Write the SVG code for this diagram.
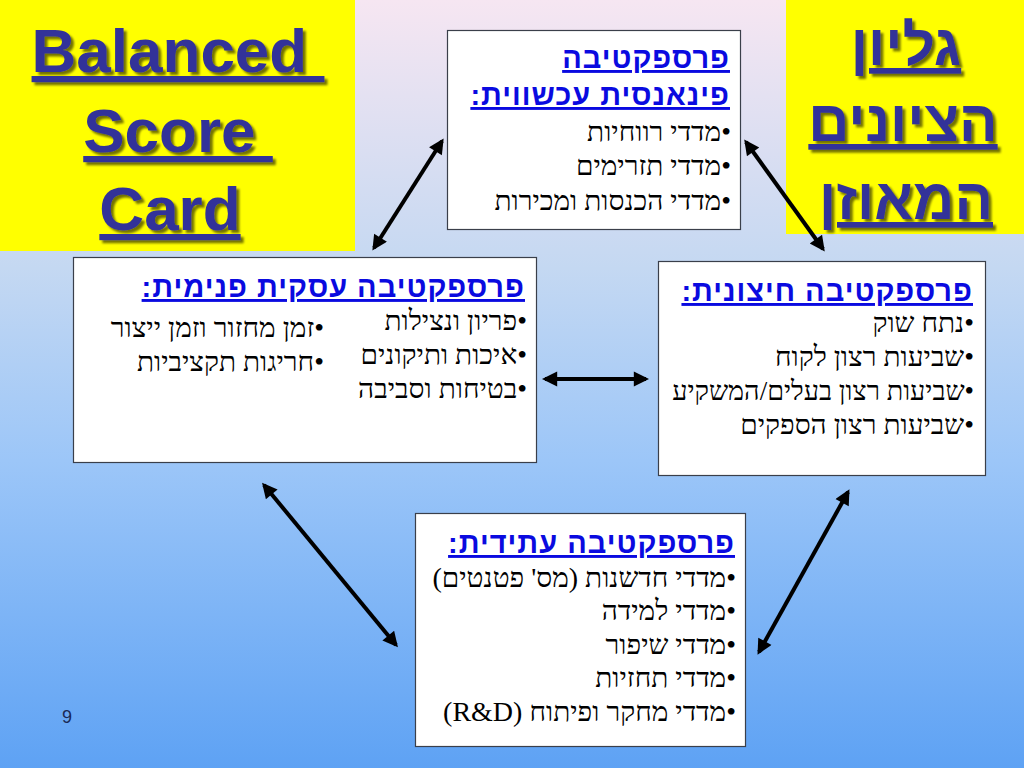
<svg xmlns="http://www.w3.org/2000/svg" width="1024" height="768" viewBox="0 0 1024 768">
<defs>
<linearGradient id="bg" x1="0" y1="0" x2="0" y2="1">
<stop offset="0" stop-color="#f6e6f2"/>
<stop offset="0.35" stop-color="#c4d8f2"/>
<stop offset="0.6" stop-color="#9cc6f8"/>
<stop offset="1" stop-color="#5ea2f4"/>
</linearGradient>
<filter id="sh" x="-10%" y="-10%" width="130%" height="140%">
<feDropShadow dx="3" dy="3" stdDeviation="1" flood-color="#000" flood-opacity="0.55"/>
</filter>
<marker id="ah" viewBox="0 0 10 10" refX="8" refY="5" markerWidth="4.4" markerHeight="3.8" orient="auto-start-reverse" markerUnits="strokeWidth">
<path d="M0,0 L10,5 L0,10 Z" fill="#000"/>
</marker>
<style>
.box{fill:#fff;stroke:#3a3f4a;stroke-width:1.2}
.ttl{font-family:"Liberation Sans",Arial,"DejaVu Sans",sans-serif;font-weight:bold;font-size:29px;letter-spacing:1px;fill:#0a0ae0;text-decoration:underline;direction:rtl;text-anchor:start}
.bd{font-family:"Liberation Serif","Times New Roman","DejaVu Sans",serif;font-size:28px;fill:#000;direction:rtl;text-anchor:start}
.big{font-family:"Liberation Sans",Arial,sans-serif;font-weight:bold;font-size:62px;fill:#333399;text-decoration:underline;text-anchor:middle}
.bigh{font-family:"Liberation Sans",Arial,"DejaVu Sans",sans-serif;font-weight:bold;font-size:57px;fill:#333399;text-decoration:underline;text-anchor:middle;direction:rtl}
.arr{stroke:#000;stroke-width:4;fill:none;marker-start:url(#ah);marker-end:url(#ah)}
</style>
</defs>
<rect x="0" y="0" width="1024" height="768" fill="url(#bg)"/>
<g id="title-en">
<rect x="0" y="0" width="355" height="251" fill="#ffff00"/>
<g filter="url(#sh)">
<text class="big" x="178" y="72" xml:space="preserve">Balanced </text>
<text class="big" x="178" y="152" xml:space="preserve">Score </text>
<text class="big" x="170" y="230">Card</text>
</g>
</g>
<g id="title-he">
<rect x="786" y="0" width="238" height="234" fill="#ffff00"/>
<g filter="url(#sh)">
<text class="bigh" x="906" y="65">גליון</text>
<text class="bigh" x="903" y="141">הציונים</text>
<text class="bigh" x="906" y="219">המאוזן</text>
</g>
</g>
<g id="connectors">
<line class="arr" x1="374" y1="248" x2="442" y2="141"/>
<line class="arr" x1="746" y1="142" x2="823" y2="249"/>
<line class="arr" x1="545" y1="379" x2="646" y2="379"/>
<line class="arr" x1="264" y1="485" x2="396" y2="645"/>
<line class="arr" x1="848" y1="492" x2="759" y2="652"/>
</g>
<g id="financial">
<rect class="box" x="447.5" y="30.5" width="293" height="199"/>
<text class="ttl" x="730" y="68">פרספקטיבה</text>
<text class="ttl" x="730" y="105">פינאנסית עכשווית:</text>
<text class="bd" x="731" y="141">•מדדי רווחיות</text>
<text class="bd" x="731" y="175">•מדדי תזרימים</text>
<text class="bd" x="731" y="210">•מדדי הכנסות ומכירות</text>
</g>
<g id="internal">
<rect class="box" x="73.5" y="257.5" width="463" height="205"/>
<text class="ttl" x="525" y="297">פרספקטיבה עסקית פנימית:</text>
<text class="bd" x="527" y="330">•פריון ונצילות</text>
<text class="bd" x="527" y="364">•איכות ותיקונים</text>
<text class="bd" x="527" y="398">•בטיחות וסביבה</text>
<text class="bd" x="324" y="337">•זמן מחזור וזמן ייצור</text>
<text class="bd" x="324" y="371">•חריגות תקציביות</text>
</g>
<g id="external">
<rect class="box" x="658.5" y="261.5" width="327" height="214"/>
<text class="ttl" x="973" y="301">פרספקטיבה חיצונית:</text>
<text class="bd" x="974" y="332">•נתח שוק</text>
<text class="bd" x="974" y="366">•שביעות רצון לקוח</text>
<text class="bd" x="974" y="400" style="font-size:27px">•שביעות רצון בעלים/המשקיע</text>
<text class="bd" x="974" y="434">•שביעות רצון הספקים</text>
</g>
<g id="future">
<rect class="box" x="415.5" y="513.5" width="330" height="233"/>
<text class="ttl" x="735" y="553">פרספקטיבה עתידית:</text>
<text class="bd" x="736" y="587">•מדדי חדשנות (מס' פטנטים)</text>
<text class="bd" x="736" y="620">•מדדי למידה</text>
<text class="bd" x="736" y="654">•מדדי שיפור</text>
<text class="bd" x="736" y="687">•מדדי תחזיות</text>
<text class="bd" x="736" y="721">•מדדי מחקר ופיתוח (R&amp;D)</text>
</g>
<text x="67" y="723" font-family="Liberation Sans,Arial,sans-serif" font-size="18" fill="#1a2a55" text-anchor="middle">9</text>
</svg>
